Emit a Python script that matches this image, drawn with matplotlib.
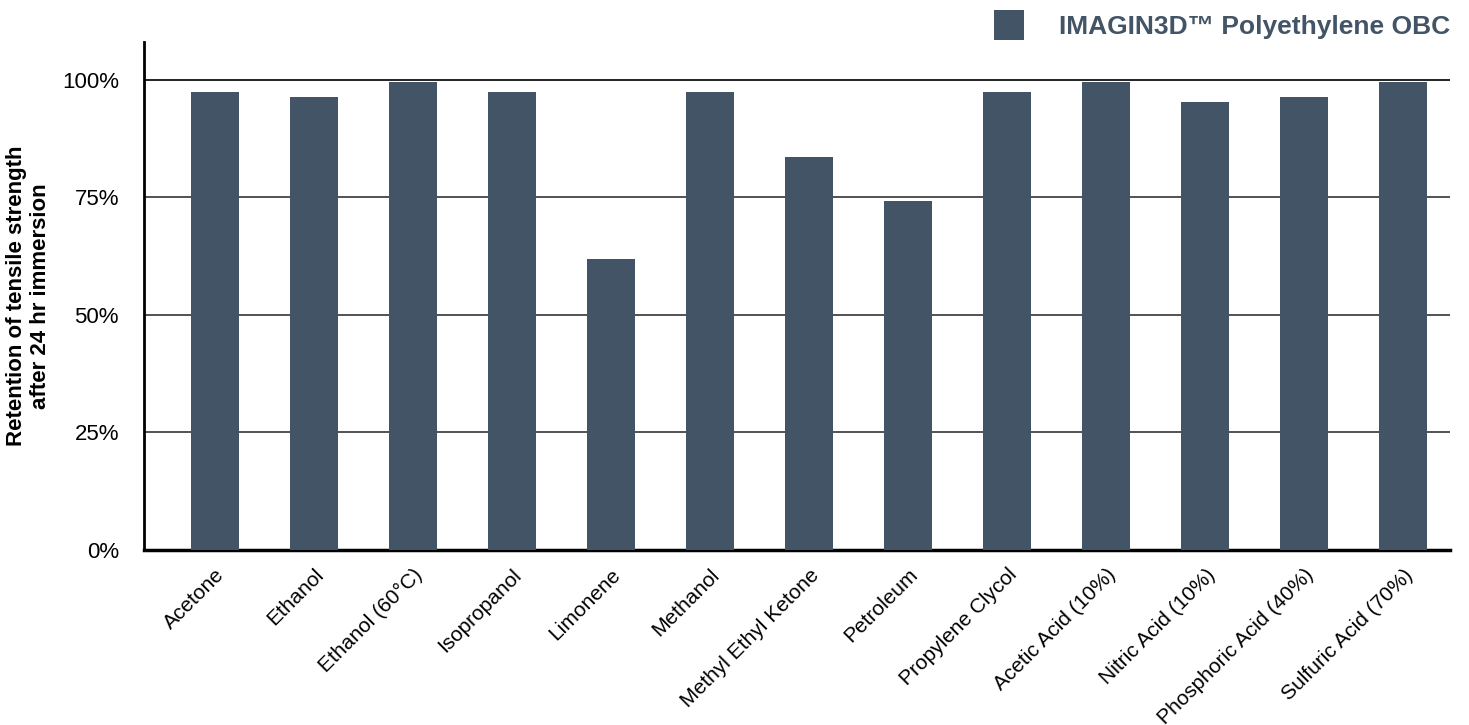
import matplotlib
matplotlib.use('Agg')
from matplotlib import pyplot as plt

solvents = ['Acetone', 'Ethanol', 'Ethanol (60°C)', 'Isopropanol', 'Limonene',
            'Methanol', 'Methyl Ethyl Ketone', 'Petroleum', 'Propylene Clycol',
            'Acetic Acid (10%)', 'Nitric Acid (10%)', 'Phosphoric Acid (40%)',
            'Sulfuric Acid (70%)']
retention = [97.4, 96.4, 99.6, 97.4, 61.9, 97.4, 83.6, 74.3, 97.4,
             99.6, 95.3, 96.4, 99.6]
y_ticks = [0, 25, 50, 75, 100]
y_tick_labels = ['0%', '25%', '50%', '75%', '100%']

bar_color = '#425466'
plt.rcParams['font.family'] = ['Liberation Sans', 'DejaVu Sans']

fig = plt.figure(figsize=(14.69, 7.25), dpi=100)
ax = fig.add_axes([0.098, 0.2414, 0.889, 0.7006])

x = list(range(len(solvents)))
ax.bar(x, retention, width=0.485, color=bar_color, zorder=3,
       label='IMAGIN3D™ Polyethylene OBC')

ax.set_xlim(-0.717, 12.47)
ax.set_ylim(0, 108)
ax.set_yticks(y_ticks)
ax.set_yticklabels(y_tick_labels, fontsize=16)
ax.set_xticks(x)
ax.set_xticklabels(solvents, rotation=45, ha='right', rotation_mode='anchor',
                   fontsize=15)
ax.tick_params(axis='x', length=0, pad=11)
ax.tick_params(axis='y', length=0, pad=18)

for t in y_ticks[1:]:
    ax.axhline(t, color='#111111' if t == 100 else '#444444', lw=1.3, zorder=1)

for side in ['top', 'right']:
    ax.spines[side].set_visible(False)
ax.spines['left'].set_linewidth(2)
ax.spines['bottom'].set_linewidth(2.5)

ax.set_ylabel('Retention of tensile strength\nafter 24 hr immersion',
              fontsize=16, fontweight='bold', labelpad=8, linespacing=1.15)

leg = ax.legend(loc='lower right', bbox_to_anchor=(1.0, 1.004), frameon=False,
                fontsize=19, handlelength=1.17, handleheight=1.4,
                handletextpad=1.3, borderaxespad=0, borderpad=0)
for txt in leg.get_texts():
    txt.set_color(bar_color)
    txt.set_fontweight('bold')

plt.savefig('out.png', dpi=100)
